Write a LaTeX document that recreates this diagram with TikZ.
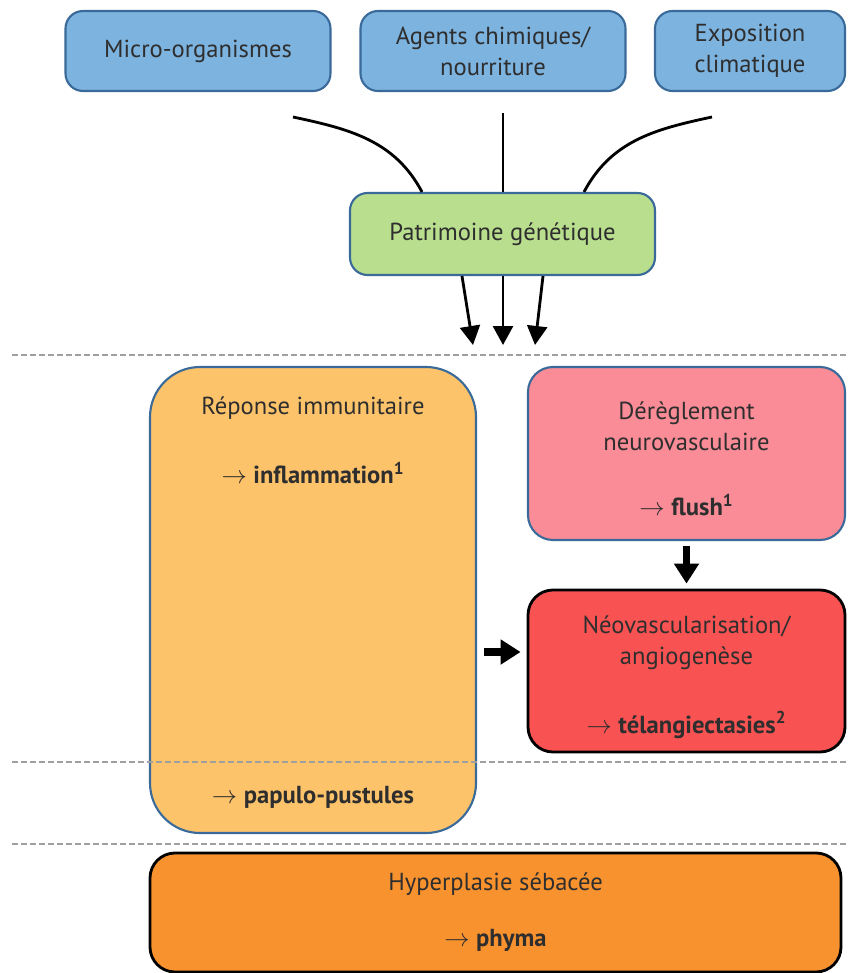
\documentclass[tikz,border=0pt]{standalone}
\usepackage{fontspec}
\setmainfont{PT Sans}
\usetikzlibrary{shapes.geometric, arrows.meta}
\definecolor{causeblue}{HTML}{7DB3DF}
\definecolor{edgeblue}{HTML}{3A6A9A}
\definecolor{genegreen}{HTML}{B9DE8E}
\definecolor{immunyellow}{HTML}{FDC36B}
\definecolor{neuropink}{HTML}{F98C96}
\definecolor{neored}{HTML}{F85352}
\definecolor{hyperorange}{HTML}{F8922F}
\definecolor{txtgray}{HTML}{2E2E2E}
\tikzstyle{cause} = [rectangle, rounded corners=0.35cm, minimum width=5.3cm, minimum height=1.6cm, align=center, draw=edgeblue, line width=1.2pt, fill=causeblue, text=txtgray]
\tikzstyle{terrain} = [rectangle, rounded corners=0.35cm, minimum width=6.1cm, minimum height=1.64cm, align=center, draw=edgeblue, line width=1.2pt, fill=genegreen, text=txtgray]
\tikzstyle{stage} = [rectangle, rounded corners=0.5cm, minimum width=6.34cm, align=center, line width=1.2pt, text=txtgray]
\tikzstyle{label} = [align=center, text=txtgray]
\tikzstyle{link} = [line width=1.6pt]
\tikzstyle{arrow} = [line width=1.6pt,-{Triangle[width=0.4cm,length=0.38cm]}]
\tikzstyle{fatarrow} = [line width=4.5pt,-{Triangle[width=0.48cm,length=0.4cm]}]
\tikzstyle{sep} = [gray!75, line width=1pt, dash pattern=on 0.12cm off 0.06cm]

\begin{document}
\begin{tikzpicture}[node distance=1cm, font=\fontsize{14}{17.6}\selectfont]
\useasboundingbox (0,0) rectangle (16.96,-19.46);

% causes
\node (micro) [cause] at (3.96,-1.02) {Micro-organismes};
\node (agents) [cause, right of=micro, xshift=4.9cm] {Agents chimiques/\\nourriture};
\node (expo) [cause, right of=agents, xshift=4.14cm, minimum width=3.8cm] {Exposition\\climatique};

\node (patr) [terrain, below of=agents, xshift=0.19cm, yshift=-2.66cm] {Patrimoine génétique};
\coordinate (inleft) at (5.86,-2.34);
\coordinate (inmid) at (10.06,-2.26);
\coordinate (inright) at (14.24,-2.34);
\draw [link] (inleft) to[out=-12, in=118] ([xshift=-1.61cm]patr.north);
\draw [link] (inmid) -- (inmid |- patr.north);
\draw [link] (inright) to[out=192, in=62] ([xshift=1.63cm]patr.north);

\coordinate (outleft) at (9.46,-6.9);
\coordinate (outmid) at (10.06,-6.9);
\coordinate (outright) at (10.7,-6.9);
\draw [arrow] ([xshift=-0.81cm]patr.south) -- (outleft);
\draw [arrow] (patr.south -| outmid) -- (outmid);
\draw [arrow] ([xshift=0.81cm]patr.south) -- (outright);

% stades
\node (reponse) [stage, rounded corners=1cm, minimum width=6.52cm, minimum height=9.32cm, draw=edgeblue, fill=immunyellow] at (6.26,-12.0) {};
\node (reptitle) [label, above of=reponse, yshift=2.84cm] {Réponse immunitaire};
\node (inflam) [label, above of=reponse, yshift=1.54cm] {$\rightarrow$ \textbf{inflammation\textsuperscript{1}}};
\node (papulo) [label, below of=reponse, yshift=-2.94cm] {$\rightarrow$ \textbf{papulo-pustules}};

\node (dereg) [stage, minimum height=3.46cm, draw=edgeblue, fill=neuropink] at (13.73,-9.07) {};
\node (deregtitle) [label, above of=dereg, yshift=-0.45cm] {Dérèglement\\neurovasculaire};
\node (flush) [label, below of=dereg, yshift=-0.03cm] {$\rightarrow$ \textbf{flush\textsuperscript{1}}};

\node (neo) [stage, minimum height=3.24cm, draw=black, line width=1.6pt, fill=neored, below of=dereg, yshift=-3.35cm] {};
\node (neotitle) [label, above of=neo, yshift=-0.44cm] {Néovascularisation/\\angiogenèse};
\node (telang) [label, below of=neo, yshift=-0.08cm] {$\rightarrow$ \textbf{télangiectasies\textsuperscript{2}}};
\draw [fatarrow, shorten <=0.1cm, shorten >=0.1cm] (dereg) -- (neo);
\draw [fatarrow, shorten <=0.14cm, shorten >=0.12cm] ([yshift=0.38cm]neo.west -| reponse.east) -- ([yshift=0.38cm]neo.west);

\node (hyper) [stage, minimum width=13.82cm, minimum height=2.38cm, draw=black, line width=1.6pt, fill=hyperorange] at (9.91,-18.25) {Hyperplasie sébacée\\[0.5cm]$\rightarrow$ \textbf{phyma}};

% separations
\foreach \y in {-7.1,-15.24,-16.88}
  \draw [sep] (0.24,\y) -- (16.96,\y);

\end{tikzpicture}
\end{document}
